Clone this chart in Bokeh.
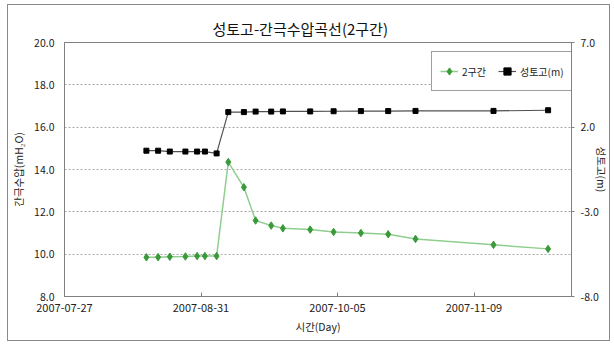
from datetime import datetime, timedelta
import pandas as pd
from bokeh.plotting import figure
from bokeh.models import (Range1d, LinearAxis, FixedTicker, PrintfTickFormatter,
                          DatetimeTickFormatter, Legend, LegendItem, ColumnDataSource)
from bokeh.embed import file_html
from bokeh.resources import INLINE

# ---------------- data ----------------
title_text = "성토고-간극수압곡선(2구간)"
dates = ["2007-08-17", "2007-08-20", "2007-08-23", "2007-08-27", "2007-08-30",
         "2007-09-01", "2007-09-04", "2007-09-07", "2007-09-11", "2007-09-14",
         "2007-09-18", "2007-09-21", "2007-09-28", "2007-10-04", "2007-10-11",
         "2007-10-18", "2007-10-25", "2007-11-14", "2007-11-28"]
pore_pressure = [9.85, 9.86, 9.88, 9.89, 9.91, 9.91, 9.91, 14.35, 13.16, 11.59,
                 11.35, 11.22, 11.16, 11.05, 11.00, 10.94, 10.72, 10.44, 10.25]
fill_height = [0.61, 0.61, 0.56, 0.56, 0.56, 0.56, 0.45, 2.89, 2.89, 2.92,
               2.92, 2.93, 2.93, 2.94, 2.95, 2.95, 2.96, 2.96, 3.00]
series_names = ["2구간", "성토고(m)"]
x_start, x_end = "2007-07-27", "2007-12-04"
x_tick_dates = ["2007-07-27", "2007-08-31", "2007-10-05", "2007-11-09"]
left_ticks = [8, 10, 12, 14, 16, 18, 20]
right_ticks = [-8, -3, 2, 7]
left_label = "간극수압(mH₂O)"
right_label = "성토고(m)"
x_label = "시간(Day)"

# ---------------- figure ----------------
FONT = "Noto Sans CJK KR"
src = ColumnDataSource(dict(x=pd.to_datetime(dates), g=pore_pressure, b=fill_height))

p = figure(width=603, height=337, x_axis_type="datetime", output_backend="svg",
           toolbar_location=None,
           x_range=Range1d(pd.Timestamp(x_start), pd.Timestamp(x_end)),
           y_range=Range1d(8, 20),
           min_border_left=53, min_border_right=36, min_border_top=37, min_border_bottom=46)
p.margin = (4, 2, 4, 7)
p.styles = {"border": "1px solid #8a8a8a"}
p.extra_y_ranges = {"right": Range1d(-8, 7)}

p.title.text = title_text
p.title.align = "left"
p.title.text_font = FONT
p.title.text_font_size = "15px"
p.title.text_font_style = "normal"
p.title.text_color = "#111111"
p.title.offset = 148
p.title.standoff = 7

p.outline_line_color = "#808080"
p.xgrid.visible = False
p.ygrid.grid_line_color = "#a8a8a8"
p.ygrid.grid_line_dash = "2 2"
p.ygrid.ticker = FixedTicker(ticks=left_ticks)

# bottom axis
xa = p.xaxis[0]
xa.ticker = FixedTicker(ticks=[pd.Timestamp(d).value / 1e6 for d in x_tick_dates])
fmt = "%Y-%m-%d"
xa.formatter = DatetimeTickFormatter(milliseconds=fmt, seconds=fmt, minsec=fmt, minutes=fmt,
                                     hourmin=fmt, hours=fmt, days=fmt, months=fmt, years=fmt)
xa.axis_label = x_label
xa.major_tick_in = 4
xa.major_tick_out = 0
xa.minor_tick_in = 0
xa.minor_tick_out = 0
xa.major_label_standoff = 7
xa.axis_label_standoff = 4

# left axis
ya = p.yaxis[0]
ya.ticker = FixedTicker(ticks=left_ticks)
ya.formatter = PrintfTickFormatter(format="%.1f")
ya.axis_label = left_label
ya.major_tick_in = 0
ya.major_tick_out = 0
ya.minor_tick_in = 0
ya.minor_tick_out = 0
ya.major_label_standoff = 10
ya.axis_label_standoff = 5

# right axis
ra = LinearAxis(y_range_name="right", ticker=FixedTicker(ticks=right_ticks),
                formatter=PrintfTickFormatter(format="%.1f"), axis_label=right_label)
ra.major_tick_in = 0
ra.major_tick_out = 3
ra.minor_tick_in = 0
ra.minor_tick_out = 0
ra.major_label_standoff = 6
ra.axis_label_standoff = -8
p.add_layout(ra, "right")

for ax in (xa, ya, ra):
    ax.axis_line_color = "#808080"
    ax.major_tick_line_color = "#808080"
    ax.major_label_text_font = FONT
    ax.major_label_text_font_size = "10.5px"
    ax.major_label_text_color = "#222222"
    ax.axis_label_text_font = FONT
    ax.axis_label_text_font_size = "10.5px"
    ax.axis_label_text_font_style = "normal"
    ax.axis_label_text_color = "#222222"
xa.major_label_text_font_size = "11px"

# series
gl = p.line("x", "g", source=src, line_color="#8fce8f", line_width=1.5)
gs = p.scatter("x", "g", source=src, marker="diamond", size=7.5,
               fill_color="#3a9a3a", line_color="#3a9a3a")
bl = p.line("x", "b", source=src, y_range_name="right", line_color="#505050", line_width=1.2)
bs = p.scatter("x", "b", source=src, y_range_name="right", marker="square", size=5,
               fill_color="black", line_color="black")

legend = Legend(items=[LegendItem(label=series_names[0], renderers=[gl, gs]),
                       LegendItem(label=series_names[1], renderers=[bl, bs])],
                orientation="horizontal", location=(367, 205))
legend.label_text_font = FONT
legend.label_text_font_size = "10px"
legend.label_text_color = "#222222"
legend.glyph_width = 18
legend.glyph_height = 22
legend.label_height = 22
legend.label_standoff = 4
legend.spacing = 12
legend.padding = 8
legend.margin = 0
legend.border_line_color = "#404040"
legend.border_line_width = 1
legend.background_fill_alpha = 1
p.add_layout(legend, "center")

open("out.html", "w").write(file_html(p, INLINE))
